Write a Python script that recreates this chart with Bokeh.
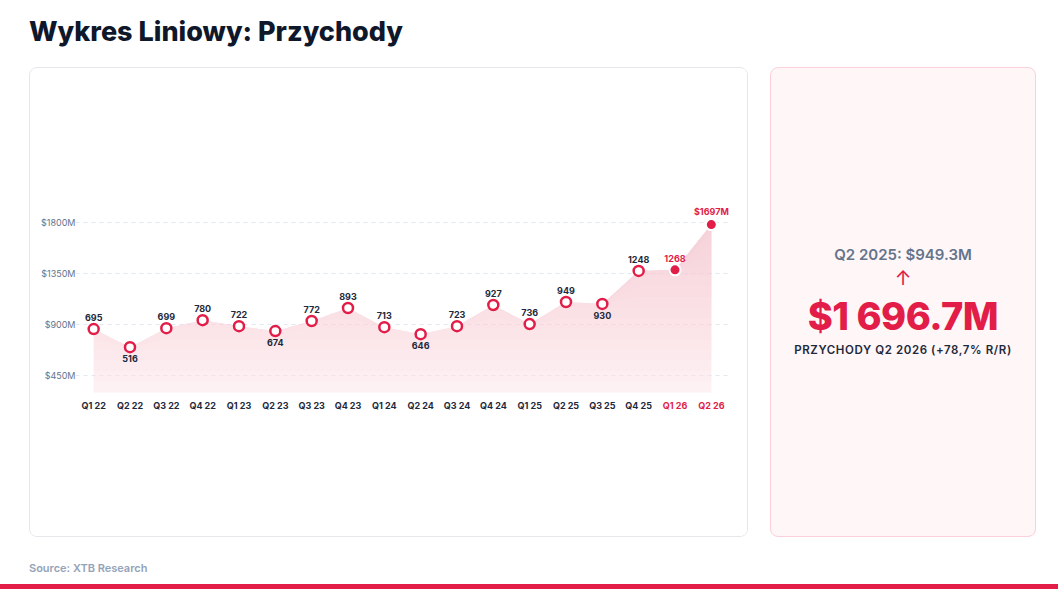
from bokeh.plotting import figure
from bokeh.models import Div, Range1d, FixedTicker, Spacer
from bokeh.layouts import column, row
from bokeh.core.properties import value
from bokeh.embed import file_html
from bokeh.resources import INLINE

quarters = ["Q1 22","Q2 22","Q3 22","Q4 22","Q1 23","Q2 23","Q3 23","Q4 23","Q1 24","Q2 24",
            "Q3 24","Q4 24","Q1 25","Q2 25","Q3 25","Q4 25","Q1 26","Q2 26"]
labels = ["695","516","699","780","722","674","772","893","713","646","723","927","736","949","930","1248","1268","$1697M"]
plotted = [856,696,864,935,882,838,927,1042,873,811,882,1069,900,1095,1078,1370,1379,1779]
below = [False,True,False,False,False,True,False,False,False,True,False,False,False,False,True,False,False,False]
yticks = [450, 900, 1350, 1800]

RED = "#e11d48"
FONT = "Inter"
xs = list(range(len(quarters)))
BASE = 296
YMIN = 119
LABEL_Y = 181

p = figure(width=719, height=470, output_backend="svg", toolbar_location=None,
           x_range=Range1d(-0.5, 17.5), y_range=Range1d(YMIN, 1983),
           min_border_left=45, min_border_right=20, min_border_top=133, min_border_bottom=126,
           styles={"border": "1px solid #e5e7eb", "border-radius": "8px", "overflow": "hidden"})
p.outline_line_color = None
p.xgrid.grid_line_color = None
p.ygrid.grid_line_color = "#e2e8f0"
p.ygrid.grid_line_dash = "4 4"
p.ygrid.ticker = FixedTicker(ticks=yticks)
p.yaxis.ticker = FixedTicker(ticks=yticks)
p.yaxis.major_label_overrides = {t: f"${t}M" for t in yticks}
p.yaxis.axis_line_color = None
p.yaxis.major_tick_line_color = None
p.yaxis.minor_tick_line_color = None
p.yaxis.major_label_standoff = -6
p.yaxis.major_label_text_color = "#64748b"
p.yaxis.major_label_text_font = FONT
p.yaxis.major_label_text_font_size = "9px"
p.xaxis.visible = False

n = 16
for k in range(n):
    b = BASE + k * (1800 - BASE) / n
    y1 = [min(v, b) for v in plotted]
    p.varea(x=xs, y1=y1, y2=plotted, fill_color="#f0889f", fill_alpha=0.045)
p.varea(x=xs, y1=[BASE]*len(xs), y2=plotted, fill_color="#fde8ec", fill_alpha=0.5)

p.scatter(xs[:16], plotted[:16], size=10, fill_color="white", line_color=RED, line_width=2.5)
p.scatter(xs[16:], plotted[16:], size=11, fill_color=RED, line_color="white", line_width=2)

for i, (x, v, lab, b) in enumerate(zip(xs, plotted, labels, below)):
    col = RED if i >= 16 else "#1e293b"
    p.text([x], [v], text=[lab], text_align="center",
           text_baseline="top" if b else "bottom", y_offset=8 if b else -8,
           text_font=value(FONT), text_font_size="9px", text_font_style="bold", text_color=col)
    p.text([x], [LABEL_Y], text=[quarters[i]], text_align="center", text_baseline="middle",
           text_font=value(FONT), text_font_size="9px", text_font_style="bold", text_color=col)

title = Div(text="Wykres Liniowy: Przychody", width=1000, height=67, margin=(0, 0, 0, 0),
            styles={"font-family": "Inter", "font-size": "27px", "font-weight": "800",
                    "color": "#0f172a", "padding-left": "29px", "padding-top": "13px",
                    "box-sizing": "border-box"})

right = Div(text=(
    '<div style="width:264px;text-align:center;font-family:Inter;padding-top:176px">'
    '<div style="font-size:15px;font-weight:600;color:#64748b">Q2 2025: $949.3M</div>'
    f'<div style="font-size:20px;color:{RED};line-height:20px;margin-top:3px">&#8593;</div>'
    f'<div style="font-size:38px;font-weight:800;color:{RED};line-height:44px;letter-spacing:-0.5px;margin-top:6px">$1 696.7M</div>'
    '<div style="font-size:11.5px;font-weight:600;color:#1e293b;letter-spacing:0.6px;margin-top:4px">PRZYCHODY Q2 2026 (+78,7% R/R)</div>'
    '</div>'),
    width=266, height=470, margin=(0, 0, 0, 0),
    styles={"background": "#fff6f8", "border": "1px solid #fbd0da", "border-radius": "8px",
            "box-sizing": "border-box"})

body = row(Spacer(width=29, height=470, margin=(0, 0, 0, 0)), p,
           Spacer(width=22, height=470, margin=(0, 0, 0, 0)), right)
source = Div(text="Source: XTB Research", width=400, height=47, margin=(0, 0, 0, 0),
             styles={"font-family": "Inter", "font-size": "11px", "font-weight": "600",
                     "color": "#94a3b8", "padding-left": "29px", "padding-top": "24px",
                     "box-sizing": "border-box"})
bar = Div(text="", width=1058, height=6, margin=(0, 0, 0, 0), styles={"background": "#e11d48"})

layout = column(title, body, source, bar)
open("out.html", "w").write(file_html(layout, INLINE))
